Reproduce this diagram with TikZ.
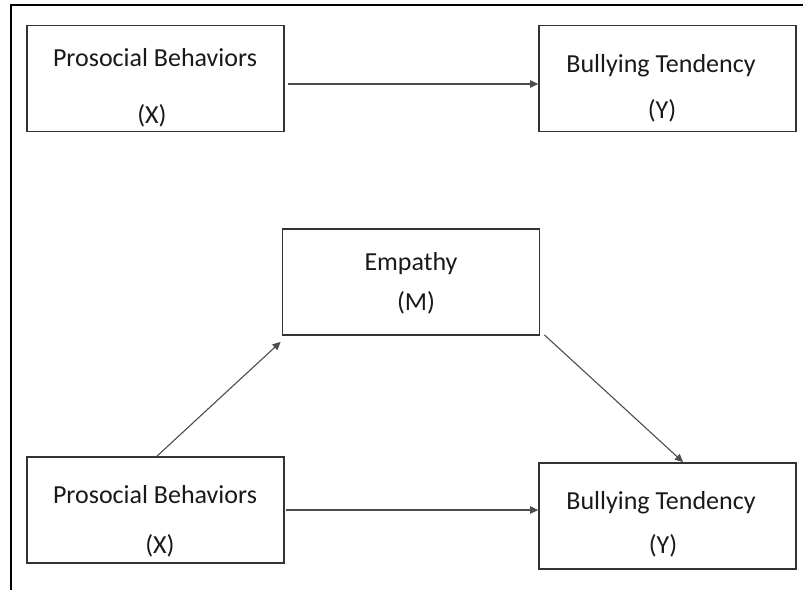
\documentclass[tikz,border=0pt]{standalone}
\usepackage{fontspec}
\setmainfont{Carlito}
\usetikzlibrary{arrows.meta}
\begin{document}
\begin{tikzpicture}[x=1pt,y=-1pt,
  box/.style={draw=black!80,line width=1.8pt,minimum width=257pt,minimum height=106pt,inner sep=0pt},
  lbl/.style={anchor=base,inner sep=0pt,font=\fontsize{26}{31}\selectfont,text=black!90},
  conn/.style={draw=black!70,line width=1.1pt,-{Triangle[length=8pt,width=7.5pt]}},
  frame/.style={draw=black,line width=2.6pt}]
\useasboundingbox (0,0) rectangle (803,590);
% outer frame (partially visible)
\coordinate (f1) at (11,590);
\coordinate (f2) at (11,5);
\coordinate (f3) at (803,5);
\draw[frame] (f1) -- (f2) -- (f3);
% boxes
\node[box] (x1) at (155.5,78.5) {};
\node[box] (y1) at (667.5,78.5) {};
\node[box] (m)  at (411,282) {};
\node[box] (x2) at (155.5,510) {};
\node[box] (y2) at (667.5,516) {};
% labels
\node[lbl] (x1a) at (155,66) {Prosocial Behaviors};
\node[lbl] (x1b) at (152,123) {(X)};
\node[lbl] (y1a) at (661,72) {Bullying Tendency};
\node[lbl] (y1b) at (662,118) {(Y)};
\node[lbl] (ma) at (411,270) {Empathy};
\node[lbl] (mb) at (416,310) {(M)};
\node[lbl] (x2a) at (155,503) {Prosocial Behaviors};
\node[lbl] (x2b) at (160,553) {(X)};
\node[lbl] (y2a) at (661,509) {Bullying Tendency};
\node[lbl] (y2b) at (663,553) {(Y)};
% connectors
\draw[conn] ([xshift=3pt,yshift=-5.5pt]x1.east) -- ([yshift=-5.5pt]x1.east -| y1.west);
\draw[conn] ([xshift=1.5pt]x2.east) -- (x2.east -| y2.west);
\draw[conn] ([xshift=1.5pt]x2.north) -- ([xshift=-1pt,yshift=-6pt]m.south west);
\draw[conn] ([xshift=4pt,yshift=1pt]m.south east) -- ([xshift=15.5pt]y2.north);
\end{tikzpicture}
\end{document}
